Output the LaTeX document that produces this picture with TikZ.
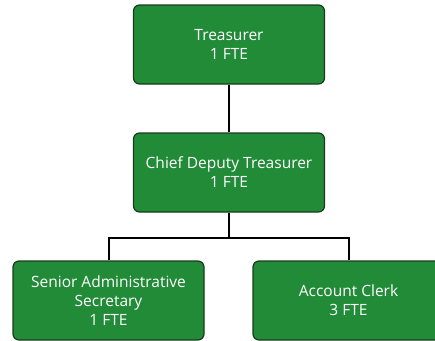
\documentclass[tikz,border=0pt]{standalone}
\usepackage{fontspec}
\setmainfont{Open Sans}
\definecolor{boxgreen}{HTML}{228B38}
\definecolor{boxedge}{HTML}{1A3A1F}
\begin{document}
\begin{tikzpicture}[x=1pt,y=-1pt,
  orgbox/.style={draw=boxedge,line width=1.2pt,fill=boxgreen,rounded corners=6pt,
    minimum width=191pt,minimum height=79pt,text=white,align=center,
    font=\fontsize{15.5}{19}\selectfont,inner sep=0pt},
  link/.style={line width=2pt,black}]
\useasboundingbox (0,0) rectangle (435,340);
\clip (0,0) rectangle (435,340);
\node[orgbox] (t) at (229,44.5) {Treasurer\\1 FTE};
\node[orgbox] (c) at (229,172.5) {Chief Deputy Treasurer\\1 FTE};
\node[orgbox] (s) at (108.5,300.5) {Senior Administrative\\Secretary\\1 FTE};
\node[orgbox] (a) at (348.5,300.5) {Account Clerk\\3 FTE};
\coordinate (j) at (229,238);
\draw[link] (t.south) -- (c.north);
\draw[link] (c.south) -- (j);
\draw[link] (s.north) |- (j) -| (a.north);
\end{tikzpicture}
\end{document}
